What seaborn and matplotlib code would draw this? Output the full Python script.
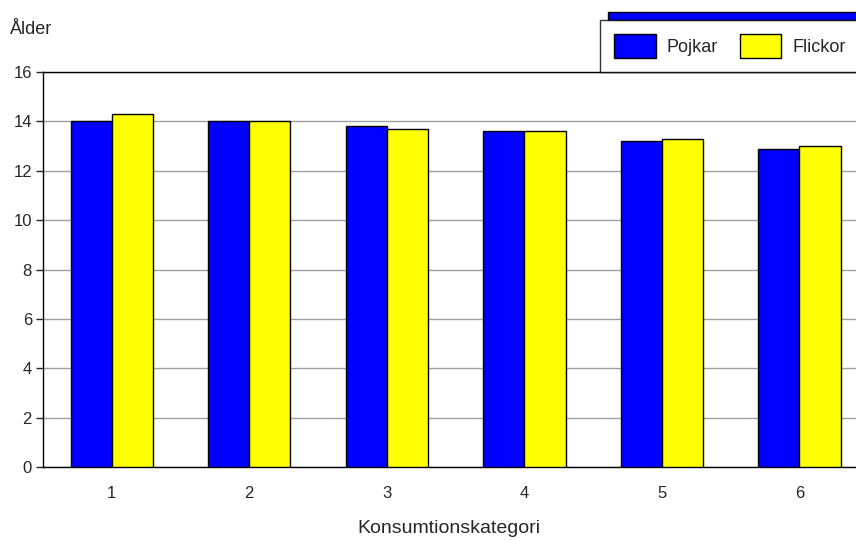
import pandas as pd
import numpy as np
import matplotlib.pyplot as plt
import matplotlib.patches as mpatches
import seaborn as sns

categories = ['1', '2', '3', '4', '5', '6']
pojkar = [14.0, 14.0, 13.8, 13.6, 13.2, 12.9]
flickor = [14.3, 14.0, 13.7, 13.6, 13.3, 13.0]

df = pd.DataFrame({
    'kategori': categories * 2,
    'alder': pojkar + flickor,
    'kon': ['Pojkar'] * 6 + ['Flickor'] * 6,
})

sns.set_style('white')
plt.rcParams['font.family'] = ['Liberation Sans', 'DejaVu Sans']

fig = plt.figure(figsize=(8.56, 5.41), dpi=100)
# axes runs a bit past the right edge, like the original
ax = fig.add_axes([43/856, 74/541, (868-43)/856, (467-72)/541])

sns.barplot(data=df, x='kategori', y='alder', hue='kon',
            palette={'Pojkar': '#0000ff', 'Flickor': '#ffff00'},
            width=0.6, edgecolor='black', linewidth=1, saturation=1,
            ax=ax, legend=False, zorder=3)

ax.set_ylim(0, 16)
ax.set_yticks(range(0, 17, 2))
ax.yaxis.grid(True, color='#a0a0a0', linewidth=1, zorder=0)
ax.set_axisbelow(True)
for s in ['left', 'bottom', 'top']:
    ax.spines[s].set_color('black')
    ax.spines[s].set_linewidth(1)
ax.spines['right'].set_visible(False)
ax.tick_params(axis='y', left=True, length=5, width=1, labelsize=12, pad=3)
ax.tick_params(axis='x', bottom=False, labelsize=12, pad=10)
ax.set_xlabel('Konsumtionskategori', fontsize=14, labelpad=12)
ax.xaxis.set_label_coords((449-43)/825, -0.135)
ax.set_ylabel('')
fig.text(10/856, 1 - 30/541, 'Ålder', fontsize=13, va='center', ha='left')

# blue strip above legend
fig.patches.append(mpatches.Rectangle((608/856, 1 - 20/541), 1 - 608/856, 8/541,
                                      transform=fig.transFigure, facecolor='#0000ff',
                                      edgecolor='black', linewidth=1, zorder=5))

handles = [mpatches.Patch(facecolor='#0000ff', edgecolor='black', label='Pojkar'),
           mpatches.Patch(facecolor='#ffff00', edgecolor='black', label='Flickor')]
leg = fig.legend(handles=handles, ncol=2, loc='upper left',
                 bbox_to_anchor=(600/856, 1 - 20/541), fontsize=13,
                 frameon=True, fancybox=False, handlelength=2.3, handleheight=1.6,
                 borderpad=0.8, columnspacing=1.2, handletextpad=0.6, borderaxespad=0)
leg.get_frame().set_edgecolor('black')
leg.get_frame().set_linewidth(1)
leg.set_zorder(6)

fig.savefig('out.png', dpi=100)
